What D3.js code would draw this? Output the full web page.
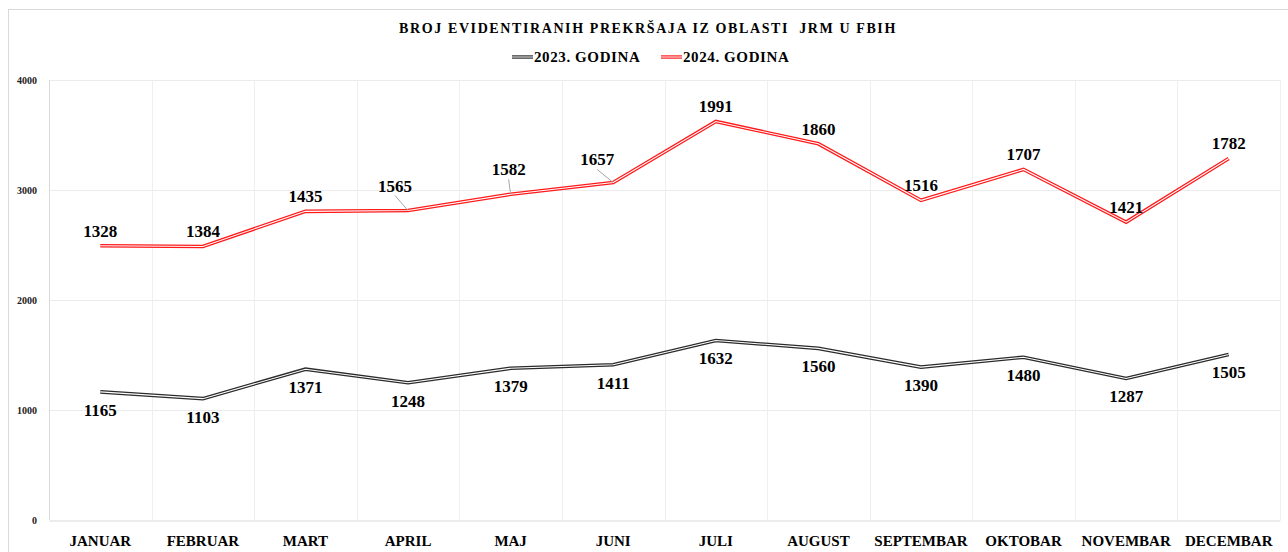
<!DOCTYPE html>
<html>
<head>
<meta charset="utf-8">
<script src="https://cdn.jsdelivr.net/npm/d3@7"></script>
<style>
  body { margin: 0; background: #fff; }
  svg { display: block; font-family: "Liberation Serif", "DejaVu Serif", serif; font-weight: bold; }
</style>
</head>
<body>
<div id="chart"></div>
<script>
// data
const months = ['JANUAR', 'FEBRUAR', 'MART', 'APRIL', 'MAJ', 'JUNI', 'JULI', 'AUGUST', 'SEPTEMBAR', 'OKTOBAR', 'NOVEMBAR', 'DECEMBAR'];
const y2023 = [1165, 1103, 1371, 1248, 1379, 1411, 1632, 1560, 1390, 1480, 1287, 1505];
const y2024 = [1328, 1384, 1435, 1565, 1582, 1657, 1991, 1860, 1516, 1707, 1421, 1782];
const seriesNames = ['2023. GODINA', '2024. GODINA'];
const yTicks = [0, 1000, 2000, 3000, 4000];

const width = 1288, height = 552;
const margin = { top: 80, right: 8, bottom: 32, left: 49 };

// a few labels were dragged by hand in the original (with leader lines)
const labelNudge = { 3: [-13, -25], 4: [-2, -25], 5: [-16, -23] };

const svg = d3.select('#chart').append('svg')
  .attr('width', width)
  .attr('height', height);

// outer frame
svg.append('rect')
  .attr('x', 8.5).attr('y', 9.5)
  .attr('width', width).attr('height', height)
  .attr('fill', 'none')
  .attr('stroke', '#d9d9d9');

const x = d3.scaleBand().domain(months).range([margin.left, width - margin.right]).padding(0);
const y = d3.scaleLinear().domain([0, 4000]).range([height - margin.bottom, margin.top]);
const cx = (i) => x(months[i]) + x.bandwidth() / 2;

// stacked line (2024 sits on top of 2023)
const rows = months.map((m, i) => ({ m, a: y2023[i], b: y2024[i] }));
const stack = d3.stack().keys(['a', 'b'])(rows);

// gridlines
svg.append('g')
  .selectAll('line')
  .data(yTicks.slice(1))
  .enter().append('line')
  .attr('x1', margin.left).attr('x2', width - margin.right)
  .attr('y1', d => Math.round(y(d)) + 0.5).attr('y2', d => Math.round(y(d)) + 0.5)
  .attr('stroke', '#ebebeb');

svg.append('g')
  .selectAll('line')
  .data(months.concat(['end']))
  .enter().append('line')
  .attr('x1', (d, i) => Math.round(margin.left + i * x.bandwidth()) + 0.5)
  .attr('x2', (d, i) => Math.round(margin.left + i * x.bandwidth()) + 0.5)
  .attr('y1', y(4000)).attr('y2', y(0))
  .attr('stroke', (d, i) => i === 0 ? '#d9d9d9' : '#efefef');

// axes
const xAxis = svg.append('g')
  .attr('transform', `translate(0,${Math.round(y(0)) + 0.5})`)
  .call(d3.axisBottom(x).tickSize(0).tickPadding(15));
xAxis.select('.domain').attr('stroke', '#d9d9d9');
xAxis.selectAll('text')
  .attr('font-family', '"Liberation Serif", serif')
  .attr('font-size', 15).attr('fill', '#000');

const yAxis = svg.append('g')
  .attr('transform', `translate(${margin.left - 12},0)`)
  .call(d3.axisLeft(y).tickValues(yTicks).tickFormat(d3.format('d')).tickSize(0).tickPadding(0));
yAxis.select('.domain').remove();
yAxis.selectAll('text')
  .attr('font-family', '"Liberation Serif", serif')
  .attr('font-size', 10).attr('fill', '#222');

// lines: compound (double) strokes
const line = d3.line()
  .x((d, i) => cx(i))
  .y(d => y(d[1]));

const colors = ['#2b2b2b', '#ff1a1a'];
stack.forEach((s, k) => {
  svg.append('path')
    .datum(s)
    .attr('fill', 'none')
    .attr('stroke', colors[k])
    .attr('stroke-width', 3.6)
    .attr('d', line);
  svg.append('path')
    .datum(s)
    .attr('fill', 'none')
    .attr('stroke', '#fff')
    .attr('stroke-width', 1.1)
    .attr('d', line);
});

// data labels
const labels = svg.append('g')
  .attr('font-size', 17)
  .attr('fill', '#000')
  .attr('text-anchor', 'middle');

stack[0].forEach((d, i) => {
  labels.append('text')
    .attr('x', cx(i))
    .attr('y', y(d[1]) + 18)
    .attr('dy', '0.35em')
    .text(y2023[i]);
});

stack[1].forEach((d, i) => {
  const n = labelNudge[i] || [0, -15];
  const px = cx(i), py = y(d[1]);
  if (labelNudge[i]) {
    svg.append('line')
      .attr('x1', px + n[0]).attr('y1', py + n[1] + 10)
      .attr('x2', px).attr('y2', py)
      .attr('stroke', '#a6a6a6')
      .attr('stroke-width', 1);
  }
  labels.append('text')
    .attr('x', px + n[0])
    .attr('y', py + n[1])
    .attr('dy', '0.35em')
    .text(y2024[i]);
});

// title
svg.append('text')
  .attr('x', 648).attr('y', 33)
  .attr('text-anchor', 'middle')
  .attr('font-size', 14)
  .attr('letter-spacing', 1.6)
  .attr('fill', '#000')
  .text('BROJ EVIDENTIRANIH PREKRŠAJA IZ OBLASTI  JRM U FBIH')
  .style('white-space', 'pre');

// legend
const legend = svg.append('g').attr('font-size', 15).attr('letter-spacing', 0.6);
const legendX = [512, 661];
seriesNames.forEach((name, k) => {
  const g = legend.append('g').attr('transform', `translate(${legendX[k]},57)`);
  g.append('line').attr('x1', 0).attr('x2', 21).attr('y1', 0).attr('y2', 0)
    .attr('stroke', colors[k]).attr('stroke-width', 3.4);
  g.append('line').attr('x1', 0).attr('x2', 21).attr('y1', 0).attr('y2', 0)
    .attr('stroke', '#fff').attr('stroke-width', 1);
  g.append('text').attr('x', 22).attr('dy', '0.35em').attr('fill', '#000').text(name);
});
</script>
</body>
</html>
